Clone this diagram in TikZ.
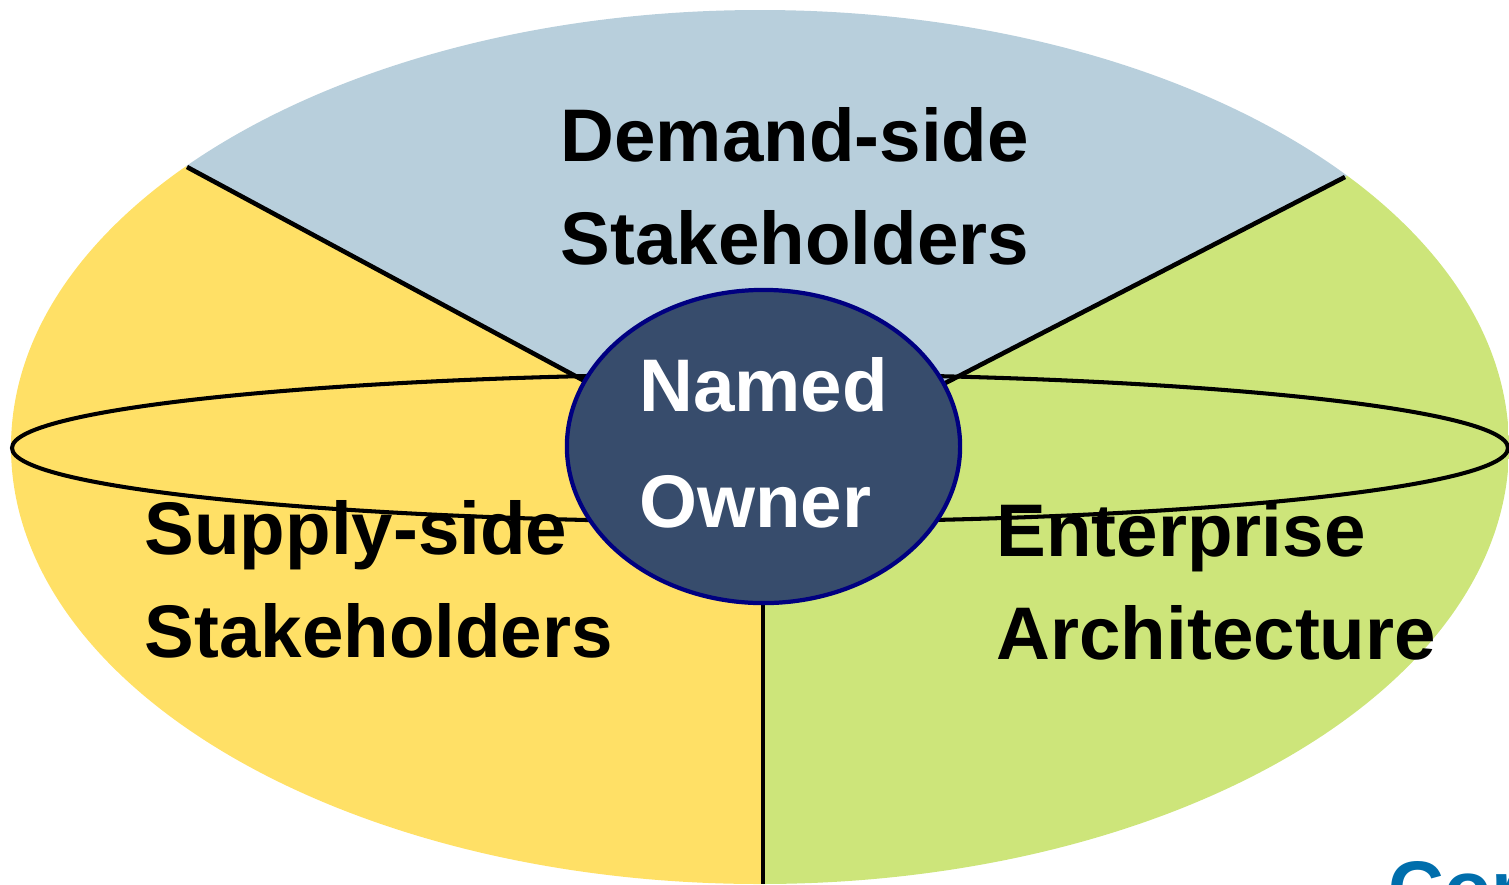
\documentclass[tikz,border=0pt]{standalone}
\usepackage{fontspec}
\setmainfont{Liberation Sans}
\usetikzlibrary{shapes.geometric}
\definecolor{demandfill}{RGB}{184,207,220}
\definecolor{supplyfill}{RGB}{255,224,102}
\definecolor{enterfill}{RGB}{205,229,122}
\definecolor{ownerfill}{RGB}{55,76,108}
\definecolor{ownerline}{RGB}{0,0,128}
\definecolor{logoblue}{RGB}{0,110,172}
\begin{document}
\begin{tikzpicture}
	[x=0.01cm,y=-0.01cm,
	sidetext/.style={anchor=north west,align=left,inner sep=0pt,font=\fontsize{21.2}{29.3}\selectfont\bfseries},
	divider/.style={line width=1.3pt},
	ownerbox/.style={ellipse,draw=ownerline,line width=1.2pt,fill=ownerfill,text=white,minimum width=3.93cm,minimum height=3.13cm,inner sep=0pt,text depth=0.08cm,align=left,font=\fontsize{21.2}{33.2}\selectfont\bfseries}]
	\useasboundingbox (0,0) rectangle (1509,884);
	\coordinate (o) at (763,477);
	\coordinate (tl) at (187,167);
	\coordinate (tr) at (1345,177);
	\coordinate (b) at (763,884);
	% the three sectors, cut out of the big ellipse
	\begin{scope}
		\clip (760,447) ellipse [x radius=749,y radius=437];
		\fill[demandfill] (o) -- (-389,-143) -- (-389,-300) -- (1927,-300) -- (1927,-123) -- cycle;
		\fill[supplyfill] (o) -- (-389,-143) -- (-389,1000) -- (763,1000) -- cycle;
		\fill[enterfill] (o) -- (763,1000) -- (1927,1000) -- (1927,-123) -- cycle;
	\end{scope}
	\draw[divider](tl)--(o);
	\draw[divider](tr)--(o);
	\draw[divider](o)--(b);
	\draw[line width=1.15pt] (760,448) ellipse [x radius=748,y radius=74];
	\node[ownerbox,name=owner] at (763.5,446.5) {Named\\Owner};
	\node[sidetext,name=demand] at (560,107) {Demand-side\\Stakeholders};
	\node[sidetext,name=supply] at (144,500) {Supply-side\\Stakeholders};
	\node[sidetext,name=enterprise] at (996,502) {Enterprise\\Architecture};
	\begin{scope}
		\clip (0,0) rectangle (1509,884);
		\node[anchor=north west,inner sep=0pt,text=logoblue,font=\fontsize{22}{22}\selectfont\bfseries,name=logo] at (1388,861) {Cor};
	\end{scope}
\end{tikzpicture}
\end{document}
